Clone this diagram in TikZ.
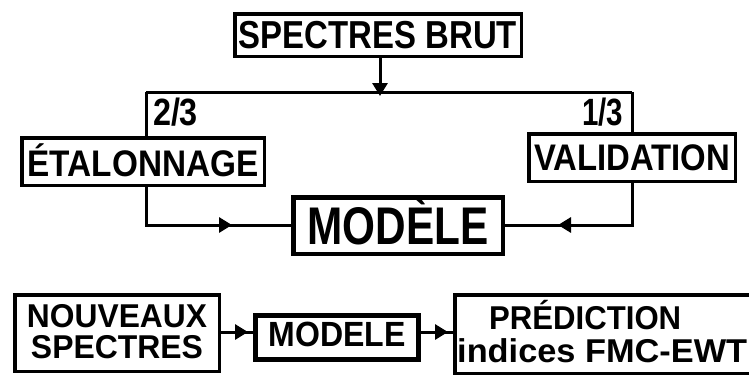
\documentclass[tikz,border=0pt]{standalone}
\usepackage{fontspec}
\usepackage{graphicx}
\setmainfont{Liberation Sans}
\usetikzlibrary{arrows.meta}
\newcommand{\fitw}[3]{\resizebox{#1}{\height}{\fontsize{#2}{#2}\selectfont\bfseries #3}}
\begin{document}
\begin{tikzpicture}[x=1pt,y=-1pt,
  conn/.style={line width=3pt},
  box/.style={draw,line width=3.5pt,inner sep=0pt,text depth=0pt},
  tip/.style={-{Triangle[length=13pt,width=15pt]}}]
\useasboundingbox (0,0) rectangle (749,376);
% boxes
\node[box,minimum width=286.5pt,minimum height=42.5pt,text height=27pt] (sb) at (378,35) {\fitw{278pt}{39pt}{SPECTRES BRUT}};
\node[box,minimum width=242.5pt,minimum height=47.5pt,text height=30pt] (etal) at (143,161.5) {\fitw{231pt}{37pt}{ÉTALONNAGE}};
\node[box,minimum width=206.5pt,minimum height=47.5pt,text height=26pt] (val) at (632,157.5) {\fitw{196pt}{37pt}{VALIDATION}};
\node[box,line width=4.5pt,minimum width=209.5pt,minimum height=56.5pt,text height=38pt] (model) at (398,225.5) {\fitw{181pt}{53pt}{MODÈLE}};
\node[box,minimum width=204.5pt,minimum height=76.5pt] (nouv) at (117,333) {};
\node[anchor=base,inner sep=0pt] (nouvA) at (117,327) {\fitw{180pt}{33pt}{NOUVEAUX}};
\node[anchor=base,inner sep=0pt] (nouvB) at (117,358) {\fitw{172pt}{33pt}{SPECTRES}};
\node[box,line width=5pt,minimum width=163pt,minimum height=44pt,text height=18pt] (mod2) at (337,337.5) {\fitw{137pt}{35pt}{MODELE}};
\node[box,minimum width=310pt,minimum height=78.5pt] (pred) at (609.75,334) {};
\node[anchor=base west,inner sep=0pt] (pa) at (489,329) {\fitw{192pt}{33pt}{PRÉDICTION}};
\node[anchor=base west,inner sep=0pt] (pb) at (457,362) {\fitw{290pt}{33pt}{indices FMC-EWT}};
% labels
\node[anchor=base,inner sep=0pt] (l23) at (175.5,125) {\fitw{45pt}{38pt}{2/3}};
\node[anchor=base,inner sep=0pt] (l13) at (602.5,125) {\fitw{41pt}{38pt}{1/3}};
% coordinates
\coordinate (jm) at (380,92);
\coordinate (jl) at (146,92);
\coordinate (jr) at (632,92);
\coordinate (tl) at (232,225);
\coordinate (tr) at (558,225);
\coordinate (tb1) at (248,332);
\coordinate (tb2) at (448,332);
% connectors
\draw[conn] (jl) -- (jr);
\draw[conn,tip] (sb.south -| jm) -- ([yshift=-4pt]jm);
\draw[conn] (sb.south -| jm) -- (jm);
\draw[conn] (jl) -- (jl |- etal.north);
\draw[conn] (jr) -- (val.north);
\draw[conn] (jl |- etal.south) |- (tl -| model.west);
\draw[conn,tip] (jl |- tl) -- (tl);
\draw[conn] (val.south) |- (tr -| model.east);
\draw[conn,tip] (val.south |- tr) -- (tr);
\draw[conn] (nouv.east |- tb1) -- (mod2.west |- tb1);
\draw[conn,tip] (nouv.east |- tb1) -- (tb1);
\draw[conn] (mod2.east |- tb2) -- (pred.west |- tb2);
\draw[conn,tip] (mod2.east |- tb2) -- (tb2);
\end{tikzpicture}
\end{document}
